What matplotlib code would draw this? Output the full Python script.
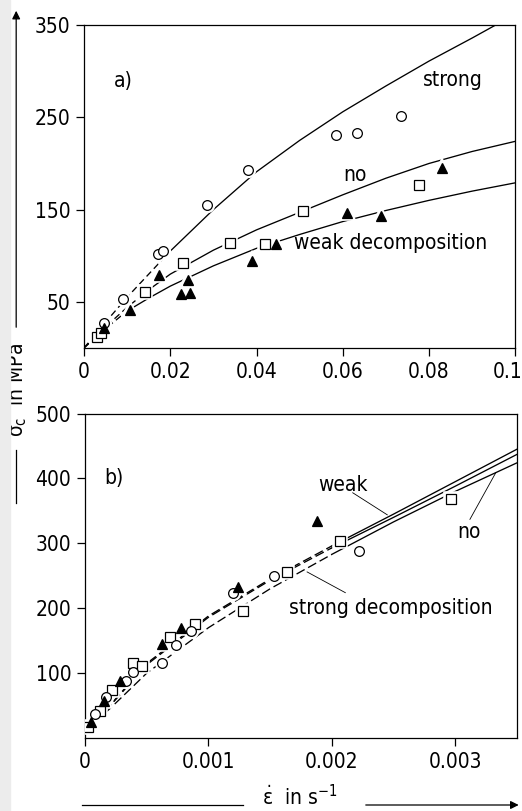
import matplotlib.pyplot as plt
from matplotlib import font_manager as fm
from matplotlib.patches import Rectangle
from matplotlib.transforms import ScaledTranslation

# narrow lettering if one is available, otherwise Liberation Sans a bit smaller
installed = {(f.name, f.stretch) for f in fm.fontManager.ttflist}
if any(n == 'Liberation Sans Narrow' for n, _ in installed):
    plt.rcParams['font.family'] = ['Liberation Sans Narrow', 'DejaVu Sans']
    fs = 16
elif ('DejaVu Sans', 'condensed') in installed:
    plt.rcParams['font.family'] = ['DejaVu Sans']
    plt.rcParams['font.stretch'] = 'condensed'
    fs = 15
else:
    plt.rcParams['font.family'] = ['Liberation Sans', 'DejaVu Sans']
    fs = 14.5
plt.rcParams['mathtext.fontset'] = 'custom'
plt.rcParams['mathtext.rm'] = plt.rcParams['font.family'][0]
plt.rcParams['mathtext.it'] = plt.rcParams['font.family'][0]

# (a) higher strain rates
a_circ_x = [0.0046, 0.0091, 0.0171, 0.0183, 0.0285, 0.038, 0.0585, 0.0633, 0.0735]
a_circ_y = [27, 53, 102, 105, 155, 193, 231, 233, 251]
a_sq_x = [0.0029, 0.0039, 0.0142, 0.0229, 0.0339, 0.042, 0.0507, 0.0778]
a_sq_y = [12, 16, 61, 92, 114, 113, 149, 177]
a_tri_x = [0.0047, 0.0107, 0.0173, 0.0224, 0.0241, 0.0246, 0.039, 0.0445, 0.061, 0.0689, 0.083]
a_tri_y = [22, 41, 79, 58, 74, 60, 94, 113, 146, 143, 195]

a_strong_x = [0, 0.005, 0.01, 0.015, 0.02, 0.03, 0.04, 0.05, 0.06, 0.07, 0.08, 0.09, 0.0958]
a_strong_y = [0, 28, 55, 80, 105, 150, 191, 225, 256, 284, 311, 336, 351]
a_no_x = [0, 0.005, 0.01, 0.015, 0.02, 0.03, 0.04, 0.05, 0.06, 0.07, 0.08, 0.09, 0.1]
a_no_y = [0, 23, 44, 63, 80, 106, 128, 147, 166, 184, 200, 213, 224]
a_weak_x = [0, 0.005, 0.01, 0.015, 0.02, 0.03, 0.04, 0.05, 0.06, 0.07, 0.08, 0.09, 0.1]
a_weak_y = [0, 21, 40, 54, 67, 89, 108, 123, 137, 149, 160, 170, 179]

# (b) low strain rates
b_sq_x = [0.00002, 0.00012, 0.00022, 0.00039, 0.00046, 0.00069, 0.00089, 0.00128, 0.00164, 0.00207, 0.00297]
b_sq_y = [17, 42, 74, 116, 111, 155, 175, 196, 256, 304, 369]
b_circ_x = [0.00008, 0.00017, 0.00033, 0.00039, 0.00062, 0.00074, 0.00086, 0.0012, 0.00153, 0.00222]
b_circ_y = [37, 63, 88, 101, 115, 143, 165, 223, 250, 289]
b_tri_x = [0.00005, 0.00015, 0.00028, 0.00062, 0.00078, 0.00124, 0.00188]
b_tri_y = [24, 57, 88, 145, 170, 232, 334]

b_curve_x = [0, 0.0002, 0.0005, 0.001, 0.0015, 0.002, 0.0025, 0.003, 0.0035]
b_weak_y = [14, 50, 115, 188, 245, 296, 345, 395, 445]
b_no_y = [14, 49, 113, 186, 243, 293, 340, 388, 437]
b_strong_y = [12, 45, 100, 170, 230, 283, 333, 380, 424]

lw = 0.95

fig = plt.figure(figsize=(5.22, 8.11), dpi=100)
ax1 = fig.add_axes([0.161, 0.571, 0.826, 0.398])
ax2 = fig.add_axes([0.163, 0.090, 0.827, 0.400])


def curve(ax, x, y, n_dash, dash=(5, 3)):
    # dashed near the origin, solid further out
    ax.plot(x[:n_dash + 1], y[:n_dash + 1], color='black', lw=lw, dashes=dash, zorder=2)
    ax.plot(x[n_dash:], y[n_dash:], color='black', lw=lw, zorder=2)


def points(ax, x, y, marker, ms, filled):
    ax.plot(x, y, ls='none', marker=marker, ms=ms, mfc='white', mec='white', mew=4, zorder=3)
    ax.plot(x, y, ls='none', marker=marker, ms=ms, mfc='black' if filled else 'white',
            mec='black', mew=0.9, zorder=4)


for ax in (ax1, ax2):
    for s in ax.spines.values():
        s.set_linewidth(0.9)
    ax.tick_params(direction='out', length=6, width=0.9, pad=4, labelsize=fs)

# panel a
curve(ax1, a_strong_x, a_strong_y, 4)
curve(ax1, a_no_x, a_no_y, 3)
curve(ax1, a_weak_x, a_weak_y, 2)
points(ax1, a_circ_x, a_circ_y, 'o', 7, False)
points(ax1, a_sq_x, a_sq_y, 's', 6.5, False)
points(ax1, a_tri_x, a_tri_y, '^', 7, True)

ax1.set_xlim(0, 0.1)
ax1.set_ylim(0, 350)
ax1.set_xticks([0, 0.02, 0.04, 0.06, 0.08, 0.1])
ax1.set_xticklabels(['0', '0.02', '0.04', '0.06', '0.08', '0.1'])
ax1.set_yticks([50, 150, 250, 350])
ax1.set_yticklabels(['50', '150', '250', '350'])

# last label sits against the right border
last = ax1.get_xticklabels()[-1]
last.set_horizontalalignment('right')
last.set_transform(last.get_transform() + ScaledTranslation(5 / 72, 0, fig.dpi_scale_trans))

ax1.text(0.009, 289, 'a)', fontsize=fs, ha='center', va='center')
ax1.text(0.0856, 291, 'strong', fontsize=fs, ha='center', va='center')
ax1.text(0.0629, 188, 'no', fontsize=fs, ha='center', va='center')
ax1.text(0.0712, 114, 'weak decomposition', fontsize=fs, ha='center', va='center')

# panel b
curve(ax2, b_curve_x, b_weak_y, 5, dash=(7, 3))
curve(ax2, b_curve_x, b_no_y, 5, dash=(7, 3))
curve(ax2, b_curve_x, b_strong_y, 5, dash=(7, 3))
points(ax2, b_sq_x, b_sq_y, 's', 6.5, False)
points(ax2, b_circ_x, b_circ_y, 'o', 7, False)
points(ax2, b_tri_x, b_tri_y, '^', 7, True)

ax2.set_xlim(0, 0.0035)
ax2.set_ylim(0, 500)
ax2.set_xticks([0, 0.001, 0.002, 0.003])
ax2.set_xticklabels(['0', '0.001', '0.002', '0.003'])
ax2.set_yticks([100, 200, 300, 400, 500])
ax2.set_yticklabels(['100', '200', '300', '400', '500'])

ax2.text(0.00023, 400, 'b)', fontsize=fs, ha='center', va='center')
ax2.text(0.00209, 390, 'weak', fontsize=fs, ha='center', va='center')
ax2.plot([0.00217, 0.00245], [378, 344], color='black', lw=0.6)
ax2.text(0.00311, 318, 'no', fontsize=fs, ha='center', va='center')
ax2.plot([0.00312, 0.00333], [337, 409], color='black', lw=0.6)
ax2.text(0.00248, 200, 'strong decomposition', fontsize=fs, ha='center', va='center')
ax2.plot([0.00211, 0.0018], [224, 256], color='black', lw=0.6)

# y axis caption with arrow, running between both panels
fig.text(0.033, 1 - 390 / 811, r'$\sigma_\mathrm{c}$  in MPa', rotation=90, fontsize=fs,
         ha='center', va='center')
fig.add_artist(plt.Line2D([0.031, 0.031], [1 - 503 / 811, 1 - 450 / 811], color='black', lw=0.9,
                          transform=fig.transFigure))
fig.patches.append(Rectangle((0, 0), 0.02, 1, transform=fig.transFigure, color='#ececec',
                             zorder=5, figure=fig))
ax1.annotate('', xy=(0.031, 1 - 8 / 811), xytext=(0.031, 1 - 330 / 811),
             xycoords='figure fraction', textcoords='figure fraction',
             arrowprops=dict(arrowstyle='-|>', lw=0.9, color='black', mutation_scale=12))

# x axis caption with arrow
fig.text(0.575, 1 - 797 / 811, r'$\dot{\varepsilon}$  in s$^{-1}$', fontsize=fs, ha='center',
         va='center')
fig.add_artist(plt.Line2D([82 / 522, 243 / 522], [1 - 805 / 811] * 2, color='black', lw=0.9,
                          transform=fig.transFigure))
ax2.annotate('', xy=(0.999, 1 - 805 / 811), xytext=(363 / 522, 1 - 805 / 811),
             xycoords='figure fraction', textcoords='figure fraction',
             arrowprops=dict(arrowstyle='-|>', lw=0.9, color='black', mutation_scale=12))

fig.savefig('out.png', dpi=100)
